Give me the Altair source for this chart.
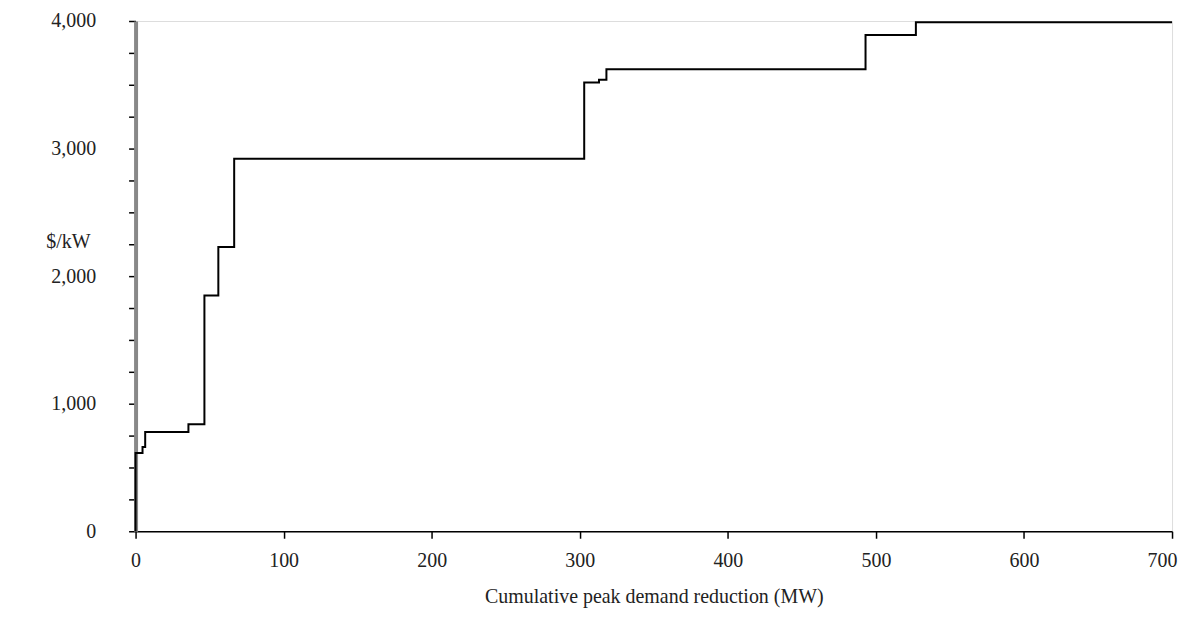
import altair as alt
import pandas as pd

# Step curve: cumulative peak demand reduction (MW) vs cost ($/kW)
mw = [0, 0, 4.7, 6.5, 35.7, 46.5, 55.9, 66.6, 303, 313, 318, 493, 527, 700]
cost = [0, 614, 660, 779, 839, 1849, 2229, 2920, 3518, 3540, 3622, 3891, 3990, 3990]

x_ticks = [0, 100, 200, 300, 400, 500, 600, 700]
y_ticks = [0, 250, 500, 750, 1000, 1250, 1500, 1750, 2000, 2250, 2500, 2750,
           3000, 3250, 3500, 3750, 4000]

df = pd.DataFrame({"mw": mw, "cost": cost, "order": list(range(len(mw)))})

FONT = "Liberation Serif"
FS = 20

line = alt.Chart(df).mark_line(
    interpolate="step-after", color="black", strokeWidth=2
).encode(
    x=alt.X("mw:Q",
            scale=alt.Scale(domain=[0, 700], nice=False, zero=True),
            axis=alt.Axis(values=x_ticks, format="d",
                          title="Cumulative peak demand reduction (MW)",
                          titlePadding=16, labelPadding=12, tickSize=7,
                          labelFlush=True, labelFlushOffset=5,
                          domainColor="black", domainWidth=1.5,
                          tickColor="black", tickWidth=1.5,
                          labelFontSize=FS, titleFontSize=FS,
                          labelFont=FONT, titleFont=FONT,
                          titleFontWeight="normal",
                          labelColor="#222", titleColor="#222",
                          grid=False)),
    y=alt.Y("cost:Q",
            scale=alt.Scale(domain=[0, 4000], nice=False),
            axis=alt.Axis(values=y_ticks,
                          labelExpr="datum.value % 1000 == 0 ? format(datum.value, ',') : ''",
                          title="$/kW", titleAngle=0, titleAlign="center",
                          titleBaseline="middle", titleY=221, titleX=-68,
                          labelPadding=33, tickSize=7, labelFlush=False,
                          domainColor="#888", domainWidth=4,
                          tickColor="black", tickWidth=1.5,
                          labelFontSize=FS, titleFontSize=FS,
                          labelFont=FONT, titleFont=FONT,
                          titleFontWeight="normal",
                          labelColor="#222", titleColor="#222",
                          grid=False)),
    order="order:Q",
)

chart = line.properties(
    width=1040, height=512,
    autosize=alt.AutoSizeParams(type="none"),
    padding={"left": 128, "top": 12, "right": 10, "bottom": 90},
).configure_view(
    stroke="black", strokeWidth=1.5
).configure(background="white")

chart.save("out.html", embed_options={"renderer": "svg", "actions": False})
